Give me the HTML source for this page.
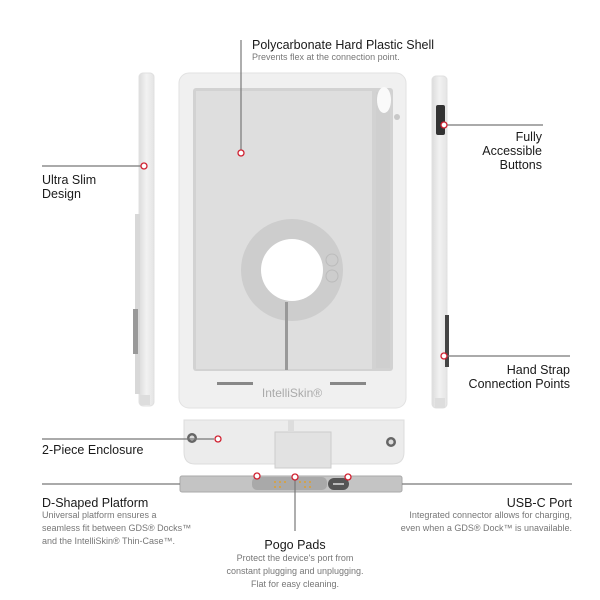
<!DOCTYPE html>
<html><head><style>
body{margin:0;width:600px;height:600px;background:#fff;position:relative;overflow:hidden;font-family:"Liberation Sans",sans-serif;color:#1a1a1a}
.t{position:absolute;font-size:12.5px;white-space:nowrap;line-height:14px}
.d{position:absolute;font-size:9px;color:#777;white-space:nowrap;line-height:13px}
</style></head><body>
<svg width="600" height="600" style="position:absolute;left:0;top:0">
<defs>
<linearGradient id="sg" x1="0" x2="1"><stop offset="0" stop-color="#dcdcdc"/><stop offset="0.5" stop-color="#f2f2f2"/><stop offset="1" stop-color="#e4e4e4"/></linearGradient>
</defs>
<rect x="139" y="73" width="15" height="333" rx="4" fill="url(#sg)" stroke="#e0e0e0"/>
<rect x="135" y="214" width="5" height="180" fill="#d8d8d8"/>
<rect x="133" y="309" width="5" height="45" fill="#999"/>
<rect x="140" y="395" width="10" height="10" fill="#ddd"/>
<rect x="432" y="76" width="15" height="332" rx="4" fill="url(#sg)" stroke="#e0e0e0"/>
<rect x="436" y="105" width="9" height="30" rx="2" fill="#333"/>
<rect x="445" y="315" width="4" height="52" fill="#444"/>
<rect x="435" y="398" width="10" height="10" fill="#ddd"/>
<rect x="179" y="73" width="227" height="335" rx="10" fill="#f0f0f0" stroke="#e2e2e2"/>
<rect x="193" y="88" width="200" height="283" rx="3" fill="#d2d2d2"/>
<rect x="196" y="91" width="176" height="278" fill="#dedede"/>
<rect x="376" y="92" width="14" height="276" fill="#cfcfcf"/>
<ellipse cx="384" cy="100" rx="7" ry="13" fill="#fafafa"/>
<circle cx="397" cy="117" r="3" fill="#c8c8c8"/>
<circle cx="292" cy="270" r="51" fill="#cdcdcd"/>
<circle cx="292" cy="270" r="31" fill="#fff"/>
<circle cx="332" cy="260" r="6" fill="none" stroke="#bbb"/>
<circle cx="332" cy="276" r="6" fill="none" stroke="#bbb"/>
<rect x="285" y="302" width="3" height="68" fill="#999"/>
<rect x="217" y="382" width="36" height="3" fill="#888"/>
<rect x="330" y="382" width="36" height="3" fill="#888"/>
<text x="292" y="397" font-size="12" fill="#aaa" text-anchor="middle" font-family="Liberation Sans">IntelliSkin®</text>
<path d="M184 420 H404 V452 Q404 464 392 464 H195 Q184 464 184 452 Z" fill="#ececec" stroke="#ddd"/>
<rect x="275" y="432" width="56" height="36" fill="#e2e2e2" stroke="#ccc"/>
<rect x="288" y="420" width="6" height="12" fill="#ddd"/>
<circle cx="192" cy="438" r="5" fill="#666"/><circle cx="192" cy="438" r="2.5" fill="#ddd"/>
<circle cx="391" cy="442" r="5" fill="#666"/><circle cx="391" cy="442" r="2.5" fill="#ddd"/>
<rect x="180" y="476" width="222" height="16" rx="2" fill="#c4c4c4" stroke="#aaa"/>
<rect x="252" y="477" width="75" height="13" rx="5" fill="#a9a9a9"/>
<g fill="#e0a030"><circle cx="275" cy="482" r="1"/><circle cx="280" cy="482" r="1"/><circle cx="285" cy="482" r="1"/><circle cx="300" cy="482" r="1"/><circle cx="305" cy="482" r="1"/><circle cx="310" cy="482" r="1"/><circle cx="275" cy="487" r="1"/><circle cx="280" cy="487" r="1"/><circle cx="305" cy="487" r="1"/><circle cx="310" cy="487" r="1"/></g>
<rect x="328" y="478" width="21" height="12" rx="6" fill="#555"/>
<rect x="333" y="483" width="11" height="2" fill="#bbb"/>
<g stroke="#777" stroke-width="1.2" fill="none">
<line x1="241" y1="40" x2="241" y2="150"/>
<line x1="42" y1="166" x2="141" y2="166"/>
<line x1="447" y1="125" x2="543" y2="125"/>
<line x1="447" y1="356" x2="570" y2="356"/>
<line x1="42" y1="439" x2="214" y2="439"/>
<line x1="42" y1="484" x2="180" y2="484"/>
<line x1="402" y1="484" x2="572" y2="484"/>
<line x1="295" y1="480" x2="295" y2="531"/>
</g>
<g fill="#fff" stroke="#d02030" stroke-width="1.3">
<circle cx="241" cy="153" r="3"/>
<circle cx="144" cy="166" r="3"/>
<circle cx="444" cy="125" r="3"/>
<circle cx="444" cy="356" r="3"/>
<circle cx="218" cy="439" r="3"/>
<circle cx="257" cy="476" r="3"/>
<circle cx="295" cy="477" r="3"/>
<circle cx="348" cy="477" r="3"/>
</g>
</svg>
<div class="t" style="left:252px;top:38px">Polycarbonate Hard Plastic Shell</div>
<div class="d" style="left:252px;top:51px">Prevents flex at the connection point.</div>
<div class="t" style="left:42px;top:173px">Ultra Slim<br>Design</div>
<div class="t" style="right:58px;top:130px;text-align:right">Fully<br>Accessible<br>Buttons</div>
<div class="t" style="right:30px;top:363px;text-align:right">Hand Strap<br>Connection Points</div>
<div class="t" style="left:42px;top:443px">2-Piece Enclosure</div>
<div class="t" style="left:42px;top:496px">D-Shaped Platform</div>
<div class="d" style="left:42px;top:509px">Universal platform ensures a<br>seamless fit between GDS® Docks™<br>and the IntelliSkin® Thin-Case™.</div>
<div class="t" style="left:215px;width:160px;text-align:center;top:538px">Pogo Pads</div>
<div class="d" style="left:185px;width:220px;text-align:center;top:552px">Protect the device's port from<br>constant plugging and unplugging.<br>Flat for easy cleaning.</div>
<div class="t" style="right:28px;top:496px;text-align:right">USB-C Port</div>
<div class="d" style="right:28px;top:509px;text-align:right">Integrated connector allows for charging,<br>even when a GDS® Dock™ is unavailable.</div>
</body></html>
